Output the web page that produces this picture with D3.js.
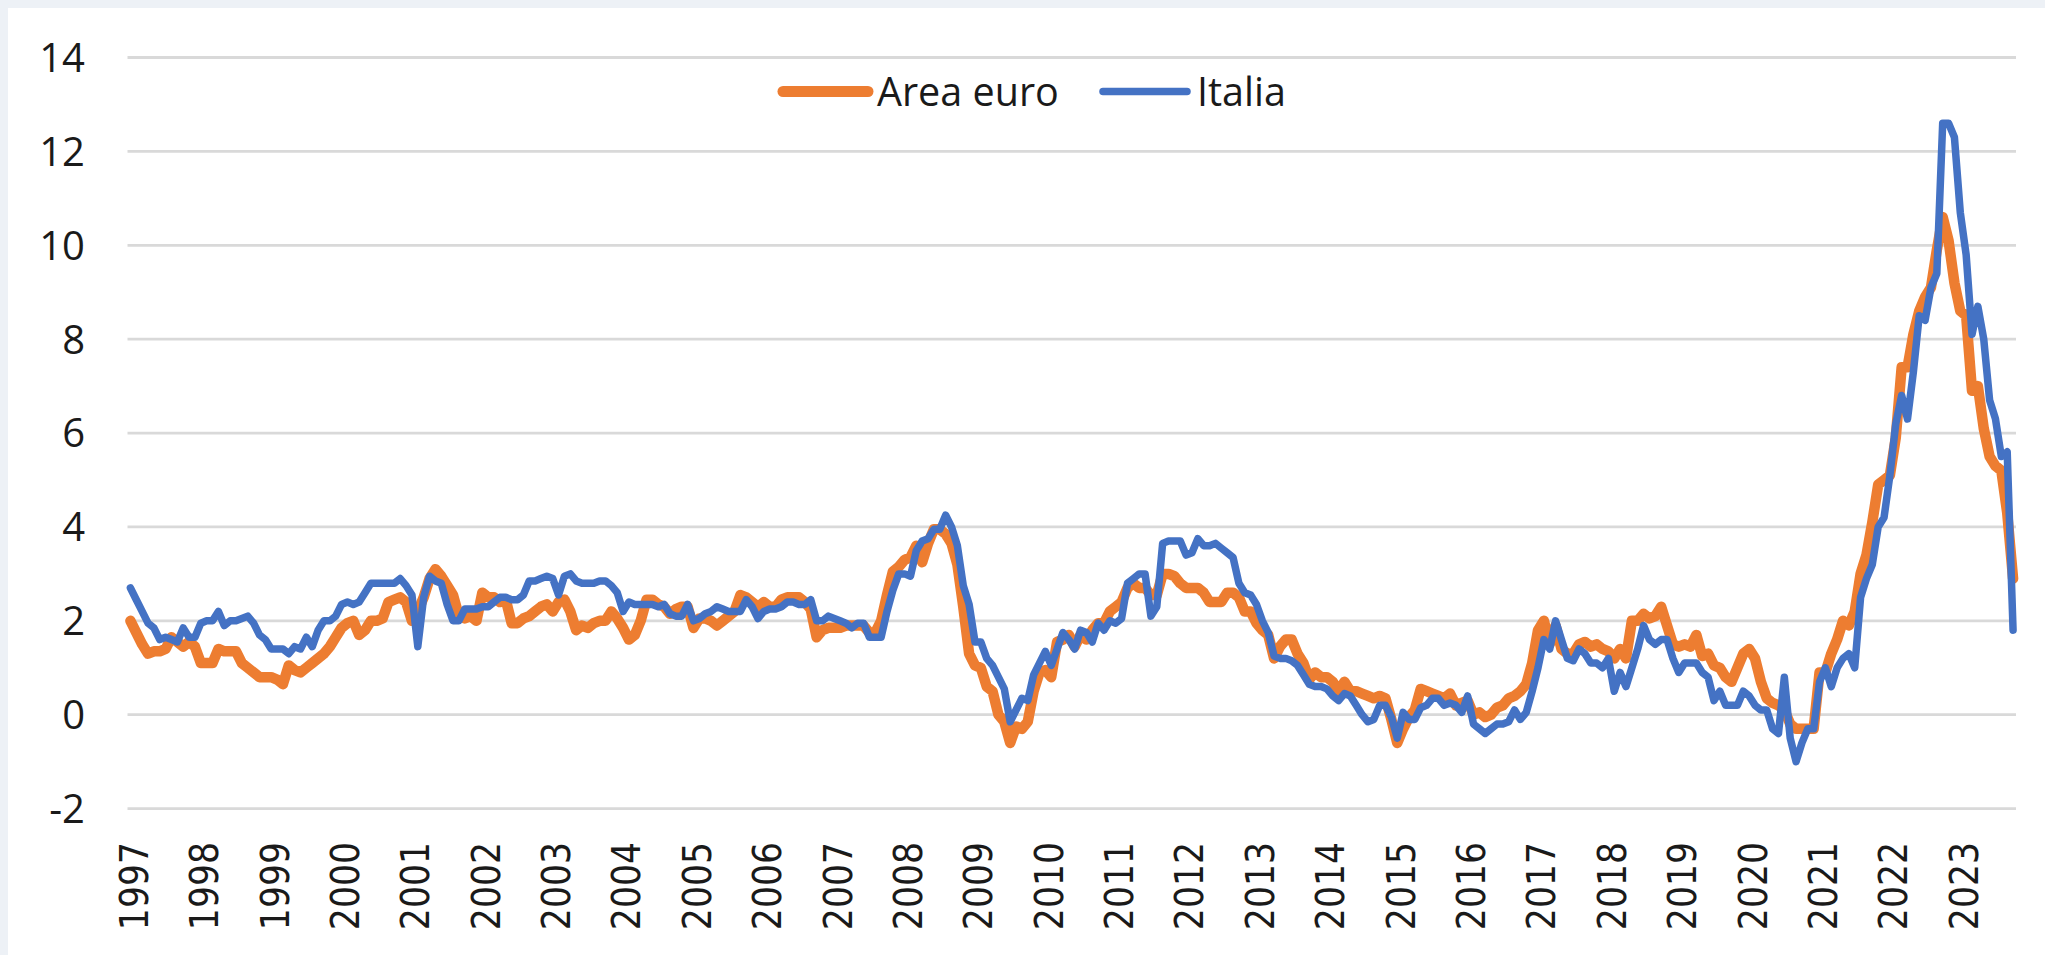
<!DOCTYPE html>
<html>
<head>
<meta charset="utf-8">
<script src="https://cdn.jsdelivr.net/npm/d3@7"></script>
<style>
  html, body { margin: 0; padding: 0; background: #edf1f6; }
  svg { display: block; }
</style>
</head>
<body>
<div id="chart"></div>
<script>
// monthly annual inflation rates, Jan 1997 - Oct 2023
const areaEuro = [
  2.0, 1.75, 1.5, 1.3, 1.35, 1.35, 1.4, 1.65, 1.55, 1.45, 1.55, 1.45,
  1.1, 1.1, 1.1, 1.4, 1.35, 1.35, 1.35, 1.1, 1.0, 0.9, 0.8, 0.8,
  0.8, 0.75, 0.65, 1.05, 0.95, 0.9, 1.0, 1.1, 1.2, 1.3, 1.45, 1.65,
  1.85, 1.95, 2.0, 1.7, 1.8, 2.0, 2.0, 2.05, 2.4, 2.45, 2.5, 2.4,
  2.0, 2.2, 2.5, 2.9, 3.1, 2.95, 2.75, 2.55, 2.1, 2.05, 2.1, 2.0,
  2.6, 2.5, 2.5, 2.4, 2.45, 1.95, 1.95, 2.05, 2.1, 2.2, 2.3, 2.35,
  2.2, 2.4, 2.45, 2.2, 1.8, 1.9, 1.85, 1.95, 2.0, 2.0, 2.2, 2.05,
  1.85, 1.6, 1.7, 2.0, 2.45, 2.45, 2.35, 2.3, 2.15, 2.25, 2.3, 2.3,
  1.85, 2.05, 2.05, 2.0, 1.9, 2.0, 2.1, 2.2, 2.55, 2.5, 2.4, 2.3,
  2.4, 2.3, 2.3, 2.45, 2.5, 2.5, 2.5, 2.4, 2.25, 1.65, 1.8, 1.85,
  1.85, 1.85, 1.9, 1.9, 1.9, 1.9, 1.75, 1.75, 2.0, 2.55, 3.05, 3.15,
  3.3, 3.35, 3.6, 3.25, 3.65, 3.95, 3.95, 3.85, 3.65, 3.2, 2.3, 1.3,
  1.05, 1.0, 0.6, 0.5, 0.0, -0.15, -0.6, -0.25, -0.3, -0.15, 0.5, 0.9,
  0.95, 0.8, 1.55, 1.6, 1.7, 1.45, 1.7, 1.6, 1.8, 1.95, 1.95, 2.2,
  2.3, 2.4, 2.7, 2.8, 2.7, 2.7, 2.55, 2.55, 3.0, 3.0, 2.95, 2.8,
  2.7, 2.7, 2.7, 2.6, 2.4, 2.4, 2.4, 2.6, 2.6, 2.5, 2.2, 2.2,
  1.95, 1.8, 1.7, 1.2, 1.45, 1.6, 1.6, 1.3, 1.1, 0.75, 0.9, 0.8,
  0.8, 0.7, 0.5, 0.7, 0.5, 0.5, 0.45, 0.4, 0.35, 0.4, 0.35, -0.1,
  -0.6, -0.3, -0.05, 0.1, 0.55, 0.5, 0.45, 0.4, 0.35, 0.45, 0.2, 0.25,
  0.3, 0.0, 0.05, -0.05, 0.0, 0.15, 0.2, 0.35, 0.4, 0.5, 0.65, 1.1,
  1.8, 2.0, 1.5, 1.9, 1.4, 1.3, 1.3, 1.5, 1.55, 1.45, 1.5, 1.4,
  1.35, 1.2, 1.4, 1.2, 2.0, 2.0, 2.15, 2.05, 2.1, 2.3, 1.9, 1.5,
  1.45, 1.5, 1.45, 1.7, 1.25, 1.3, 1.05, 1.0, 0.8, 0.7, 1.0, 1.3,
  1.4, 1.2, 0.7, 0.35, 0.25, 0.2, 0.1, -0.2, -0.3, -0.3, -0.3, -0.3,
  0.9, 0.9, 1.3, 1.6, 2.0, 1.9, 2.2, 3.0, 3.4, 4.1, 4.9, 5.0,
  5.1, 5.9, 7.4, 7.4, 8.1, 8.6, 8.9, 9.1, 9.9, 10.6, 10.1, 9.2,
  8.6, 8.5, 6.9, 7.0, 6.1, 5.5, 5.3, 5.2, 4.3, 2.9
];

const italia = [
  2.7, 2.45, 2.2, 1.95, 1.85, 1.6, 1.65, 1.6, 1.55, 1.85, 1.65, 1.65,
  1.95, 2.0, 2.0, 2.2, 1.9, 2.0, 2.0, 2.05, 2.1, 1.95, 1.7, 1.6,
  1.4, 1.4, 1.4, 1.3, 1.45, 1.4, 1.65, 1.45, 1.8, 2.0, 2.0, 2.1,
  2.35, 2.4, 2.35, 2.4, 2.6, 2.8, 2.8, 2.8, 2.8, 2.8, 2.9, 2.75,
  2.55, 1.45, 2.5, 2.95, 2.85, 2.8, 2.35, 2.0, 2.0, 2.25, 2.25, 2.25,
  2.3, 2.3, 2.4, 2.5, 2.5, 2.45, 2.45, 2.55, 2.85, 2.85, 2.9, 2.95,
  2.9, 2.55, 2.95, 3.0, 2.85, 2.8, 2.8, 2.8, 2.85, 2.85, 2.75, 2.6,
  2.2, 2.4, 2.35, 2.35, 2.35, 2.35, 2.3, 2.35, 2.15, 2.1, 2.1, 2.35,
  2.0, 2.05, 2.15, 2.2, 2.3, 2.25, 2.2, 2.2, 2.2, 2.45, 2.3, 2.05,
  2.2, 2.25, 2.25, 2.3, 2.4, 2.4, 2.35, 2.35, 2.45, 2.0, 2.0, 2.1,
  2.05, 2.0, 1.95, 1.85, 1.95, 1.95, 1.65, 1.65, 1.65, 2.2, 2.65, 3.0,
  3.0, 2.95, 3.5, 3.7, 3.75, 3.95, 3.95, 4.25, 4.0, 3.6, 2.75, 2.35,
  1.55, 1.55, 1.2, 1.05, 0.8, 0.55, -0.15, 0.1, 0.35, 0.3, 0.85, 1.1,
  1.35, 1.05, 1.4, 1.75, 1.6, 1.4, 1.8, 1.75, 1.55, 1.95, 1.8, 2.0,
  1.95, 2.05, 2.8, 2.9, 3.0, 3.0, 2.1, 2.3, 3.65, 3.7, 3.7, 3.7,
  3.4, 3.45, 3.75, 3.6, 3.6, 3.65, 3.55, 3.45, 3.35, 2.8, 2.6, 2.55,
  2.35, 2.0, 1.75, 1.25, 1.2, 1.2, 1.15, 1.05, 0.85, 0.65, 0.6, 0.6,
  0.55, 0.4, 0.3, 0.45, 0.4, 0.2, 0.0, -0.15, -0.1, 0.2, 0.2, -0.05,
  -0.5, 0.05, -0.1, -0.1, 0.15, 0.2, 0.35, 0.35, 0.2, 0.25, 0.2, 0.05,
  0.4, -0.2, -0.3, -0.4, -0.3, -0.2, -0.2, -0.15, 0.1, -0.1, 0.05, 0.5,
  1.0, 1.6, 1.4, 2.0, 1.6, 1.2, 1.15, 1.4, 1.3, 1.1, 1.1, 1.0,
  1.2, 0.5, 0.9, 0.6, 1.0, 1.4, 1.9, 1.6, 1.5, 1.6, 1.6, 1.2,
  0.9, 1.1, 1.1, 1.1, 0.9, 0.8, 0.3, 0.5, 0.2, 0.2, 0.2, 0.5,
  0.4, 0.2, 0.1, 0.1, -0.3, -0.4, 0.8, -0.5, -1.0, -0.6, -0.3, -0.3,
  0.7, 1.0, 0.6, 1.0, 1.2, 1.3, 1.0, 2.5, 2.9, 3.2, 4.0, 4.2,
  5.1, 6.2, 6.8, 6.3, 7.3, 8.5, 8.4, 9.1, 9.4, 12.6, 12.6, 12.3,
  10.7, 9.8, 8.1, 8.7, 8.0, 6.7, 6.3, 5.5, 5.6, 1.8
];

const years = d3.range(1997, 2024);
const yTicks = [-2, 0, 2, 4, 6, 8, 10, 12, 14];
const seriesNames = ["Area euro", "Italia"];

const width = 2045,
  height = 955;

const svg = d3
  .select("#chart")
  .append("svg")
  .attr("width", width)
  .attr("height", height);

// white chart area over the light slide background
svg
  .append("rect")
  .attr("x", 8)
  .attr("y", 8)
  .attr("width", width - 8)
  .attr("height", height - 8)
  .attr("fill", "#ffffff");

const x = d3
  .scalePoint()
  .domain(d3.range(areaEuro.length))
  .range([127.5, 2016])
  .padding(0.5);

const y = d3.scaleLinear().domain([-2, 14]).range([808.6, 57.5]);

// gridlines
svg
  .append("g")
  .selectAll("line")
  .data(yTicks)
  .join("line")
  .attr("x1", 127.5)
  .attr("x2", 2016)
  .attr("y1", (d) => y(d))
  .attr("y2", (d) => y(d))
  .attr("stroke", "#d9d9d9")
  .attr("stroke-width", 2.8);

// y labels
svg
  .append("g")
  .selectAll("text")
  .data(yTicks)
  .join("text")
  .attr("x", 85)
  .attr("y", (d) => y(d))
  .attr("dy", "0.36em")
  .attr("text-anchor", "end")
  .style("font-family", "'Open Sans', sans-serif")
  .style("font-size", "40px")
  .style("fill", "#1a1a1a")
  .text((d) => d);

// x labels, one per January
svg
  .append("g")
  .selectAll("text")
  .data(years)
  .join("text")
  .attr(
    "transform",
    (d) => `translate(${x((d - 1997) * 12) + 3.5}, 842) rotate(-90)`
  )
  .attr("dy", "0.36em")
  .attr("text-anchor", "end")
  .style("font-family", "'DejaVu Sans Condensed', 'DejaVu Sans', sans-serif")
  .style("font-stretch", "condensed")
  .style("font-size", "38.5px")
  .style("fill", "#1a1a1a")
  .text((d) => d);

const line = d3
  .line()
  .x((d, i) => x(i))
  .y((d) => y(d));

svg
  .append("path")
  .datum(areaEuro)
  .attr("d", line)
  .attr("fill", "none")
  .attr("stroke", "#ED7D31")
  .attr("stroke-width", 10.5)
  .attr("stroke-linejoin", "round")
  .attr("stroke-linecap", "round");

svg
  .append("path")
  .datum(italia)
  .attr("d", line)
  .attr("fill", "none")
  .attr("stroke", "#4472C4")
  .attr("stroke-width", 7.5)
  .attr("stroke-linejoin", "round")
  .attr("stroke-linecap", "round");

// legend
const legend = [
  { name: seriesNames[0], color: "#ED7D31", w: 11, x0: 783, x1: 868, tx: 877 },
  { name: seriesNames[1], color: "#4472C4", w: 7.5, x0: 1103, x1: 1187, tx: 1197 },
];

const lg = svg.append("g").selectAll("g").data(legend).join("g");

lg.append("line")
  .attr("x1", (d) => d.x0)
  .attr("x2", (d) => d.x1)
  .attr("y1", 91.5)
  .attr("y2", 91.5)
  .attr("stroke", (d) => d.color)
  .attr("stroke-width", (d) => d.w)
  .attr("stroke-linecap", "round");

lg.append("text")
  .attr("x", (d) => d.tx)
  .attr("y", 105.5)
  .style("font-family", "'Open Sans', sans-serif")
  .style("font-size", "39.5px")
  .style("fill", "#1a1a1a")
  .text((d) => d.name);
</script>
</body>
</html>
